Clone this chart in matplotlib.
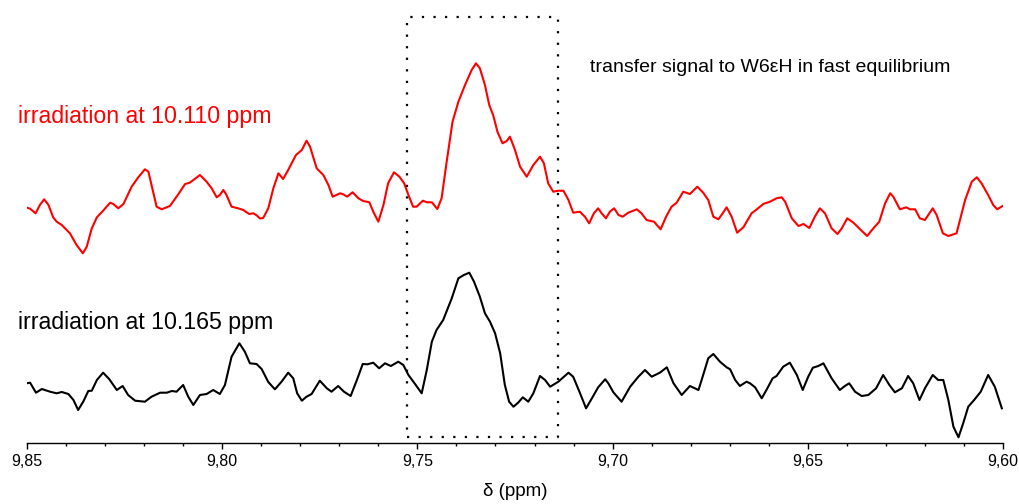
import numpy as np
import matplotlib.pyplot as plt

plt.rcParams['font.family'] = ['Liberation Sans', 'DejaVu Sans']

# chemical shift (ppm) and intensity (arb. units) of the irradiated spectra
ppm_red = [9.8503, 9.8492, 9.8478, 9.8467, 9.8456, 9.8445, 9.8433, 9.8424, 9.8411, 9.8390,
           9.8373, 9.8357, 9.8347, 9.8334, 9.8321, 9.8305, 9.8287, 9.8279, 9.8266, 9.8253,
           9.8232, 9.8215, 9.8198, 9.8189, 9.8178, 9.8168, 9.8155, 9.8134, 9.8112, 9.8095,
           9.8083, 9.8057, 9.8040, 9.8027, 9.8014, 9.8006, 9.7997, 9.7989, 9.7976, 9.7959,
           9.7946, 9.7931, 9.7920, 9.7912, 9.7903, 9.7895, 9.7882, 9.7869, 9.7856, 9.7844,
           9.7831, 9.7811, 9.7796, 9.7784, 9.7775, 9.7758, 9.7741, 9.7728, 9.7717, 9.7698,
           9.7690, 9.7680, 9.7666, 9.7651, 9.7639, 9.7623, 9.7613, 9.7600, 9.7587, 9.7575,
           9.7560, 9.7546, 9.7534, 9.7523, 9.7511, 9.7502, 9.7486, 9.7476, 9.7463, 9.7449,
           9.7438, 9.7425, 9.7410, 9.7395, 9.7378, 9.7361, 9.7350, 9.7340, 9.7327, 9.7316,
           9.7306, 9.7295, 9.7282, 9.7271, 9.7263, 9.7250, 9.7237, 9.7220, 9.7203, 9.7186,
           9.7176, 9.7165, 9.7152, 9.7139, 9.7126, 9.7113, 9.7101, 9.7084, 9.7071, 9.7060,
           9.7048, 9.7037, 9.7028, 9.7017, 9.7007, 9.6996, 9.6985, 9.6974, 9.6960, 9.6938,
           9.6926, 9.6913, 9.6894, 9.6877, 9.6863, 9.6849, 9.6836, 9.6819, 9.6802, 9.6783,
           9.6768, 9.6755, 9.6742, 9.6729, 9.6718, 9.6708, 9.6695, 9.6681, 9.6665, 9.6644,
           9.6635, 9.6614, 9.6597, 9.6580, 9.6567, 9.6558, 9.6541, 9.6524, 9.6511, 9.6496,
           9.6482, 9.6469, 9.6456, 9.6439, 9.6424, 9.6413, 9.6399, 9.6383, 9.6366, 9.6348,
           9.6332, 9.6317, 9.6302, 9.6289, 9.6281, 9.6264, 9.6248, 9.6238, 9.6225, 9.6213,
           9.6200, 9.6180, 9.6170, 9.6154, 9.6140, 9.6119, 9.6097, 9.6080, 9.6067, 9.6055,
           9.6038, 9.6025, 9.6015, 9.6001]
int_red = [0.27, 0.13, -0.33, 0.5, 1.07, 0.5, -0.73, -1.17, -1.5, -2.33,
           -3.5, -4.33, -3.67, -1.83, -0.73, -0.07, 0.73, 0.6, 0.17, 0.6,
           2.33, 3.27, 4.07, 3.83, 2.0, 0.33, 0.07, 0.4, 1.6, 2.6,
           2.73, 3.5, 2.83, 2.17, 1.27, 1.5, 2.0, 1.5, 0.33, 0.17,
           0.0, -0.4, -0.33, -0.53, -0.85, -0.8, 0.17, 2.17, 3.67, 3.1,
           4.0, 5.5, 6.0, 6.93, 6.33, 4.17, 3.5, 2.5, 1.33, 1.67,
           1.57, 1.33, 1.77, 1.17, 0.9, 0.77, -0.17, -1.17, 0.5, 2.67,
           3.77, 3.33, 2.67, 1.5, 0.33, 0.33, 0.93, 0.77, 0.77, 0.1,
           1.17, 4.83, 8.83, 10.83, 12.5, 14.0, 14.67, 14.17, 12.5, 10.5,
           9.5, 7.83, 6.67, 6.9, 7.33, 6.0, 4.33, 3.33, 4.5, 5.33,
           4.67, 2.67, 1.83, 1.93, 1.93, 1.0, -0.27, -0.17, -0.67, -1.33,
           -0.33, 0.17, -0.33, -0.83, -0.17, 0.17, -0.5, -0.67, -0.27, 0.07,
           -0.33, -1.0, -1.17, -1.93, -0.67, 0.33, 0.73, 1.83, 1.6, 2.33,
           1.73, 1.0, -0.67, -0.93, -0.33, 0.27, -0.67, -2.27, -1.73, -0.33,
           -0.07, 0.6, 0.83, 1.17, 1.27, 0.83, -0.83, -1.6, -1.4, -1.8,
           -0.67, 0.17, -0.33, -1.83, -2.4, -1.83, -0.83, -1.27, -1.93, -2.6,
           -1.83, -1.17, 0.67, 1.67, 1.33, 0.07, 0.27, 0.07, 0.07, -0.83,
           -1.0, 0.17, -0.5, -2.33, -2.6, -2.33, 1.0, 2.83, 3.27, 2.67,
           1.5, 0.5, 0.07, 0.4]

ppm_black = [9.8501, 9.8492, 9.8477, 9.8462, 9.8441, 9.8424, 9.8411, 9.8394, 9.8381, 9.8369,
             9.8356, 9.8343, 9.8334, 9.8321, 9.8305, 9.8289, 9.8270, 9.8255, 9.8241, 9.8223,
             9.8198, 9.8181, 9.8159, 9.8142, 9.8129, 9.8117, 9.8100, 9.8087, 9.8074, 9.8057,
             9.8040, 9.8023, 9.8006, 9.7993, 9.7976, 9.7956, 9.7942, 9.7929, 9.7912, 9.7899,
             9.7882, 9.7865, 9.7848, 9.7831, 9.7818, 9.7808, 9.7796, 9.7784, 9.7771, 9.7750,
             9.7732, 9.7720, 9.7703, 9.7688, 9.7671, 9.7655, 9.7640, 9.7628, 9.7613, 9.7598,
             9.7583, 9.7568, 9.7549, 9.7536, 9.7523, 9.7506, 9.7489, 9.7476, 9.7463, 9.7451,
             9.7434, 9.7412, 9.7395, 9.7381, 9.7367, 9.7355, 9.7340, 9.7327, 9.7314, 9.7301,
             9.7288, 9.7276, 9.7265, 9.7254, 9.7242, 9.7230, 9.7216, 9.7203, 9.7186, 9.7173,
             9.7160, 9.7139, 9.7113, 9.7101, 9.7085, 9.7068, 9.7053, 9.7037, 9.7019, 9.7011,
             9.6998, 9.6977, 9.6955, 9.6934, 9.6917, 9.6900, 9.6879, 9.6861, 9.6844, 9.6823,
             9.6802, 9.6780, 9.6768, 9.6755, 9.6742, 9.6725, 9.6708, 9.6699, 9.6686, 9.6674,
             9.6657, 9.6648, 9.6635, 9.6618, 9.6605, 9.6590, 9.6580, 9.6563, 9.6546, 9.6528,
             9.6513, 9.6499, 9.6487, 9.6473, 9.6460, 9.6439, 9.6418, 9.6405, 9.6394, 9.6379,
             9.6362, 9.6345, 9.6325, 9.6307, 9.6291, 9.6277, 9.6259, 9.6243, 9.6230, 9.6214,
             9.6200, 9.6180, 9.6166, 9.6153, 9.6140, 9.6127, 9.6114, 9.6102, 9.6089, 9.6074,
             9.6057, 9.6038, 9.6021, 9.6003]
int_black = [0.67, 0.73, -0.27, 0.1, -0.17, -0.33, -0.2, -0.4, -1.0, -2.0,
             -1.17, -0.1, -0.07, 1.0, 1.73, 1.07, 0.0, 0.4, -0.5, -1.07,
             -1.17, -0.67, -0.27, -0.27, -0.1, -0.17, 0.5, -0.67, -1.5, -0.5,
             -0.4, 0.0, -0.4, 0.5, 3.33, 4.67, 3.83, 2.67, 2.6, 2.1,
             0.8, 0.07, 0.83, 1.73, 1.17, -0.33, -1.07, -0.67, -0.4, 0.93,
             0.17, -0.17, 0.4, -0.17, -0.6, 1.0, 2.6, 2.57, 2.73, 2.17,
             2.67, 2.4, 2.83, 2.5, 1.5, 0.6, -0.33, 2.0, 4.83, 6.0,
             7.0, 9.17, 11.17, 11.5, 11.73, 10.83, 9.33, 7.67, 6.83, 5.67,
             3.67, 0.5, -1.17, -1.67, -1.27, -0.73, -1.17, -0.33, 1.4, 1.0,
             0.33, 0.83, 1.73, 1.33, -0.17, -1.83, -0.83, 0.27, 1.07, 0.67,
             -0.23, -1.17, 0.33, 1.33, 2.0, 1.33, 1.73, 2.27, 0.67, -0.5,
             0.4, 0.0, 1.5, 3.17, 3.6, 2.83, 2.27, 2.07, 1.0, 0.4,
             0.83, 0.67, 0.27, -0.83, 0.07, 1.17, 1.4, 2.33, 2.73, 1.5,
             0.0, 1.33, 2.23, 2.4, 2.67, 1.17, 0.0, 0.4, 0.67, -0.17,
             -0.6, -0.5, 0.17, 1.5, 0.5, -0.23, 0.17, 1.4, 0.67, -1.0,
             0.17, 1.5, 1.0, 1.0, -1.0, -3.67, -4.73, -3.33, -1.67, -1.0,
             -0.17, 1.5, 0.33, -1.83]

red_offset = 18.0
box_ppm = [9.7527, 9.7139]
box_int = [-4.73, 37.3]
xticks = [9.85, 9.80, 9.75, 9.70, 9.65, 9.60]

fig = plt.figure(figsize=(10.19, 5.04), dpi=100)
ax = fig.add_axes([27 / 1019, 61 / 504, 976 / 1019, 443 / 504])

ax.plot(ppm_red, np.array(int_red) + red_offset, color='#ff0000', lw=1.5,
        solid_joinstyle='round')
ax.plot(ppm_black, int_black, color='black', lw=1.5, solid_joinstyle='round')

# dotted frame around the transferred signal
bx = [box_ppm[0], box_ppm[1], box_ppm[1], box_ppm[0], box_ppm[0]]
by = [box_int[0], box_int[0], box_int[1], box_int[1], box_int[0]]
ax.plot(bx, by, color='black', lw=1.6, linestyle=(0, (1, 4.2)))

ax.set_xlim(9.85, 9.60)
ax.set_ylim(-5.3, 39)
ax.set_xticks(xticks)
ax.set_xticklabels([f'{t:.2f}'.replace('.', ',') for t in xticks], fontsize=11.5)
ax.set_xticks(np.arange(9.60, 9.851, 0.01), minor=True)
ax.tick_params(axis='x', which='major', length=4.5, width=1, direction='out', pad=3.5)
ax.tick_params(axis='x', which='minor', length=2.5, width=1, direction='out')
ax.set_yticks([])
for s in ['left', 'right', 'top']:
    ax.spines[s].set_visible(False)
ax.spines['bottom'].set_linewidth(1)
ax.set_xlabel('δ (ppm)', fontsize=13.5, labelpad=10)

fig.text(18 / 1019, 1 - 116 / 504, 'irradiation at 10.110 ppm', color='#ff0000',
         fontsize=16.7, va='center', ha='left')
fig.text(18 / 1019, 1 - 323 / 504, 'irradiation at 10.165 ppm', color='black',
         fontsize=16.7, va='center', ha='left')
fig.text(590 / 1019, 1 - 68 / 504, 'transfer signal to W6εH in fast equilibrium',
         color='black', fontsize=14, va='center', ha='left')

fig.savefig('out.png', dpi=100)
